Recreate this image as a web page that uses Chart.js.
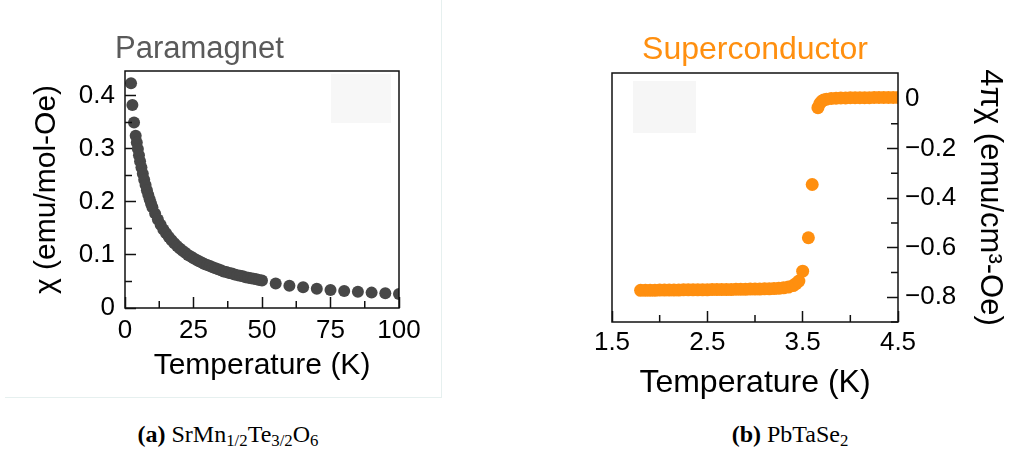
<!DOCTYPE html>
<html>
<head>
<meta charset="utf-8">
<script src="https://cdn.jsdelivr.net/npm/chart.js@4"></script>
<style>
  body { margin: 0; background: #fff; width: 1009px; height: 450px; position: relative; overflow: hidden; }
  canvas { position: absolute; top: 0; }
  #chartA { left: 0; }
  #chartB { left: 560px; }
  .panel { position: absolute; left: 5px; top: -4px; width: 436px; height: 401px;
           border-right: 1.5px solid #e6f0ef; border-bottom: 1.5px solid #e6f0ef; }
  .caption { position: absolute; top: 421px; font-family: 'Liberation Serif', 'Times New Roman', serif;
             font-size: 24px; color: #000; white-space: nowrap; transform: translateX(-50%); }
  .caption sub { font-size: 70%; vertical-align: -0.25em; line-height: 0; }
</style>
</head>
<body>
<div class="panel"></div>
<canvas id="chartA" width="514" height="400"></canvas>
<canvas id="chartB" width="449" height="420"></canvas>
<div class="caption" style="left:228px"><b>(a)</b> SrMn<sub>1/2</sub>Te<sub>3/2</sub>O<sub>6</sub></div>
<div class="caption" style="left:790px"><b>(b)</b> PbTaSe<sub>2</sub></div>
<script>
// SrMn1/2Te3/2O6: susceptibility vs temperature
const tempA = [2.2, 2.7, 3.3, 3.9, 4.3, 4.7, 5.1, 5.5, 6.0, 6.5, 7.0, 7.5, 8.0, 8.5, 9.0, 9.5,
  10, 11, 12, 13, 14, 15, 16, 17, 18, 19, 20, 21, 22, 23, 24, 25, 26, 27, 28, 29, 30,
  31, 32, 33, 34, 35, 36, 37, 38, 39, 40, 41, 42, 43, 44, 45, 46, 47, 48, 49, 50,
  55, 60, 65, 70, 75, 80, 85, 90, 95, 100];
const chiA = [0.424, 0.383, 0.350, 0.325, 0.312, 0.300, 0.288, 0.277, 0.265, 0.253, 0.242, 0.232, 0.222, 0.213, 0.205, 0.197,
  0.190, 0.178, 0.167, 0.157, 0.148, 0.141, 0.134, 0.128, 0.122, 0.117, 0.112, 0.108, 0.104, 0.100, 0.097, 0.094, 0.091, 0.088, 0.086, 0.083, 0.081,
  0.079, 0.077, 0.075, 0.073, 0.071, 0.069, 0.068, 0.066, 0.065, 0.063, 0.062, 0.061, 0.060, 0.058, 0.057, 0.056, 0.055, 0.054, 0.053, 0.052,
  0.046, 0.042, 0.039, 0.0365, 0.034, 0.032, 0.0305, 0.029, 0.0278, 0.0265];
const tempMinorA = [12.5, 37.5, 62.5, 87.5];
const chiMinorA = [0.05, 0.15, 0.25, 0.35];

// PbTaSe2: volume susceptibility through the superconducting transition
const tempB = [1.80, 1.85, 1.90, 1.95, 2.00, 2.05, 2.10, 2.15, 2.20, 2.25, 2.30, 2.35, 2.40, 2.45, 2.50,
  2.55, 2.60, 2.65, 2.70, 2.75, 2.80, 2.85, 2.90, 2.95, 3.00, 3.05, 3.10, 3.15, 3.20, 3.25, 3.30, 3.35,
  3.40, 3.43, 3.46, 3.50, 3.56, 3.60, 3.66, 3.68, 3.70, 3.72, 3.75, 3.80, 3.85, 3.90, 3.95, 4.00,
  4.05, 4.10, 4.15, 4.20, 4.25, 4.30, 4.35, 4.40, 4.45, 4.50];
const chiB = [-0.772, -0.772, -0.772, -0.772, -0.771, -0.771, -0.771, -0.771, -0.771, -0.770, -0.770, -0.770, -0.770, -0.770, -0.770,
  -0.769, -0.769, -0.769, -0.769, -0.769, -0.768, -0.768, -0.768, -0.767, -0.767, -0.767, -0.766, -0.766, -0.765, -0.764, -0.762, -0.759,
  -0.753, -0.745, -0.735, -0.695, -0.560, -0.345, -0.035, -0.018, -0.009, -0.004, -0.001, 0.002, 0.003, 0.004, 0.004, 0.005,
  0.005, 0.005, 0.005, 0.005, 0.006, 0.006, 0.006, 0.006, 0.006, 0.006];
const tempMinorB = [2.0, 3.0, 4.0];
const chiMinorB = [-0.9, -0.7, -0.5, -0.3, -0.1];

Chart.defaults.font.family = "'Liberation Sans', Arial, sans-serif";
Chart.defaults.color = '#000';

const toPoints = (xs, ys) => xs.map((x, i) => ({ x: x, y: ys[i] }));

// boxed frame, inward minor ticks and the pale inset square
const framePlugin = {
  id: 'frame',
  beforeDatasetsDraw(chart, args, opts) {
    const a = chart.chartArea, ctx = chart.ctx;
    ctx.save();
    ctx.fillStyle = opts.insetColor;
    ctx.fillRect(a.left + opts.inset[0], a.top + opts.inset[1], opts.inset[2], opts.inset[3]);
    ctx.restore();
  },
  afterDraw(chart, args, opts) {
    const a = chart.chartArea, ctx = chart.ctx;
    const xs = chart.scales.x, ys = chart.scales.y;
    ctx.save();
    ctx.strokeStyle = '#111';
    ctx.lineWidth = 1.5;
    ctx.strokeRect(a.left, a.top, a.right - a.left, a.bottom - a.top);
    ctx.beginPath();
    opts.xMinor.forEach(v => {
      const px = xs.getPixelForValue(v);
      ctx.moveTo(px, a.bottom);
      ctx.lineTo(px, a.bottom - 7);
    });
    opts.yMinor.forEach(v => {
      const py = ys.getPixelForValue(v);
      if (ys.position === 'right') {
        ctx.moveTo(a.right, py);
        ctx.lineTo(a.right - 7, py);
      } else {
        ctx.moveTo(a.left, py);
        ctx.lineTo(a.left + 7, py);
      }
    });
    ctx.stroke();
    ctx.restore();
  }
};

const tickGrid = { display: true, drawOnChartArea: false, drawTicks: true, tickLength: -11, tickWidth: 1.5, tickColor: '#111' };

new Chart(document.getElementById('chartA'), {
  type: 'scatter',
  data: {
    datasets: [{
      data: toPoints(tempA, chiA),
      backgroundColor: '#474747',
      borderWidth: 0,
      pointRadius: 6,
      pointHoverRadius: 6,
      clip: 0
    }]
  },
  options: {
    responsive: false,
    animation: false,
    devicePixelRatio: 1,
    layout: { padding: { left: 0, right: 115, top: 0, bottom: 0 } },
    plugins: {
      legend: { display: false },
      tooltip: { enabled: false },
      title: {
        display: true,
        text: 'Paramagnet',
        color: '#5a5a5a',
        font: { size: 31, weight: 'normal' },
        padding: { top: 30.4, bottom: 3.4 }
      },
      frame: { xMinor: tempMinorA, yMinor: chiMinorA, inset: [206, 3, 60, 49], insetColor: '#f7f7f7' }
    },
    scales: {
      x: {
        type: 'linear',
        min: 0, max: 100,
        z: 1,
        border: { display: false },
        grid: tickGrid,
        ticks: { stepSize: 25, padding: 18.4, font: { size: 26 }, maxRotation: 0 },
        title: { display: true, text: 'Temperature (K)', font: { size: 30 }, padding: { top: 0, bottom: 16 } },
        afterFit: s => { s.height = 92; }
      },
      y: {
        type: 'linear',
        min: 0, max: 0.447,
        z: 1,
        border: { display: false },
        grid: tickGrid,
        ticks: {
          stepSize: 0.1, includeBounds: false, padding: 21, font: { size: 26 },
          callback: v => v === 0 ? '0' : v.toFixed(1)
        },
        title: { display: true, text: 'χ (emu/mol-Oe)', font: { size: 30 }, padding: { top: 29, bottom: 0 } },
        afterFit: s => { s.width = 125; }
      }
    }
  },
  plugins: [framePlugin]
});

new Chart(document.getElementById('chartB'), {
  type: 'scatter',
  data: {
    datasets: [{
      data: toPoints(tempB, chiB),
      backgroundColor: '#ff8f0f',
      borderWidth: 0,
      pointRadius: 6.5,
      pointHoverRadius: 6.5,
      clip: 0
    }]
  },
  options: {
    responsive: false,
    animation: false,
    devicePixelRatio: 1,
    layout: { padding: { left: 52, right: 0, top: 0, bottom: 0 } },
    plugins: {
      legend: { display: false },
      tooltip: { enabled: false },
      title: {
        display: true,
        fullSize: false,
        text: 'Superconductor',
        color: '#ff8f0f',
        font: { size: 32, weight: 'normal' },
        padding: { top: 30.8, bottom: 3.8 }
      },
      frame: { xMinor: tempMinorB, yMinor: chiMinorB, inset: [21, 8, 63, 52], insetColor: '#f6f6f6' }
    },
    scales: {
      x: {
        type: 'linear',
        min: 1.5, max: 4.5,
        z: 1,
        border: { display: false },
        grid: tickGrid,
        ticks: { stepSize: 1, padding: 16.4, font: { size: 26 }, maxRotation: 0, callback: v => v.toFixed(1) },
        title: { display: true, text: 'Temperature (K)', font: { size: 32 }, padding: { top: 0, bottom: 17.3 } },
        afterFit: s => { s.height = 98; }
      },
      y: {
        type: 'linear',
        position: 'right',
        min: -0.9, max: 0.105,
        z: 1,
        border: { display: false },
        grid: tickGrid,
        ticks: {
          stepSize: 0.2, includeBounds: false, padding: 18, font: { size: 26 },
          callback: v => Math.abs(v) < 1e-9 ? '0' : '\u2212' + Math.abs(v).toFixed(1)
        },
        title: { display: true, text: '4πχ (emu/cm³-Oe)', font: { size: 31 }, padding: { top: 0.4, bottom: 0 } },
        afterFit: s => { s.width = 111; }
      }
    }
  },
  plugins: [framePlugin]
});
</script>
</body>
</html>
